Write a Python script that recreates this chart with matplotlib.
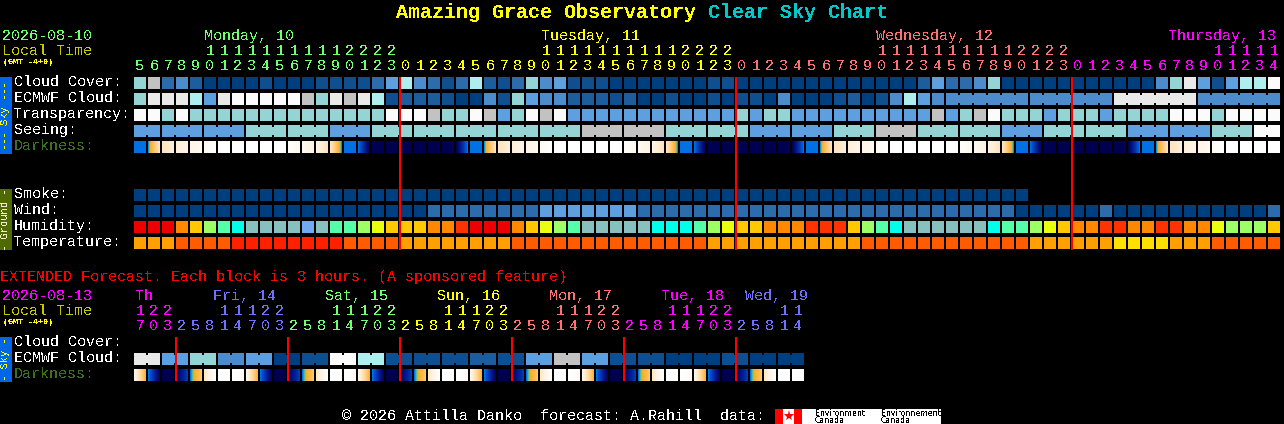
import numpy as np
import matplotlib
matplotlib.use("Agg")
import matplotlib.pyplot as plt
from matplotlib.colors import LinearSegmentedColormap

# ---------- data ----------
hours = [5,6,7,8,9,10,11,12,13,14,15,16,17,18,19,20,21,22,23,
         0,1,2,3,4,5,6,7,8,9,10,11,12,13,14,15,16,17,18,19,20,21,22,23,
         0,1,2,3,4,5,6,7,8,9,10,11,12,13,14,15,16,17,18,19,20,21,22,23,
         0,1,2,3,4,5,6,7,8,9,10,11,12,13,14]
ext_hours = [17,20,23,
             2,5,8,11,14,17,20,23,
             2,5,8,11,14,17,20,23,
             2,5,8,11,14,17,20,23,
             2,5,8,11,14,17,20,23,
             2,5,8,11,14,17,20,23,
             2,5,8,11,14]
day_labels = ["Monday, 10", "Tuesday, 11", "Wednesday, 12", "Thursday, 13"]
ext_day_labels = ["Th", "Fri, 14", "Sat, 15", "Sun, 16", "Mon, 17", "Tue, 18", "Wed, 19"]

cloud_cover = [6,8,3,4,2,0,0,0,0,1,0,0,0,1,1,1,1,3,5,7,4,
               3,1,3,7,2,1,3,6,4,5,1,1,1,0,0,0,0,0,0,0,1,1,
               0,0,0,0,0,0,0,0,0,0,0,0,0,2,5,3,3,4,6,
               0,0,0,0,0,0,0,0,0,0,0,4,6,9,5,1,5,7,7,10]
ecmwf_cloud = [6,9,9,9,7,5,9,10,10,10,10,10,8,6,9,8,9,7,1,2,2,
               2,1,0,0,4,1,6,5,4,4,2,2,2,1,2,0,0,1,0,0,1,0,
               1,1,0,4,0,0,0,1,2,0,1,4,7,5,4,4,4,4,4,4,4,
               4,4,4,4,4,4,9,9,9,9,9,9,4,4,4,4,4,4]
transparency = [10,10,6,10,6,6,6,6,6,6,6,6,6,6,6,6,6,6,10,10,10,8,
                6,6,10,8,5,6,10,8,10,
                5,5,5,5,5,5,5,5,5,5,5,5,
                6,5,6,6,
                5,5,5,5,5,5,5,5,5,5,
                8,5,6,8,10,
                6,6,6,5,6,6,6,5,
                6,6,6,6,
                10,10,10,6,10,10,10,10]
seeing = [5,5, 5,5,5, 5,5,5, 6,6,6, 6,6,6, 5,5,5, 6,6,6, 6,6,6, 6,6,6, 6,6,6, 6,6,6,
          8,8,8, 8,8,8, 6,6,6, 6,6,6, 5,5,5, 5,5,5, 6,6,6, 8,8,8, 6,6,6, 6,6,6,
          5,5,5, 6,6,6, 6,6,6, 5,5,5, 5,5,5, 6,6,6, 10,10]
seeing_blocks = [2,3,3,3,3,3,3,3,3,3,3,3,3,3,3,3,3,3,3,3,3,3,3,3,3,3,3,2]
ecmwf_blocks = [58,6,6,6,6]   # first run is unjoined hourly data

dark_start = [.5,.51,.78,.84,.89,.94,1,1,1,1,1,.99,.93,.88,.78,.5,.5,.02,0,0,0,0,0,.02,
              .5,.51,.78,.84,.89,.94,1,1,1,1,1,.99,.93,.88,.78,.5,.5,.02,0,0,0,0,0,.02,
              .5,.51,.78,.84,.89,.94,1,1,1,1,1,.99,.93,.88,.78,.5,.5,.02,0,0,0,0,0,.02,
              .5,.51,.78,.84,.89,.94,1,1,1,1]
dark_end = [.5,.78,.84,.89,.94,1,1,1,1,1,.99,.93,.88,.78,.51,.5,.02,0,0,0,0,0,.02,.5,
            .5,.78,.84,.89,.94,1,1,1,1,1,.99,.93,.88,.78,.51,.5,.02,0,0,0,0,0,.02,.5,
            .5,.78,.84,.89,.94,1,1,1,1,1,.99,.93,.88,.78,.51,.5,.02,0,0,0,0,0,.02,.5,
            .5,.78,.84,.89,.94,1,1,1,1,1]

smoke = [0,0,0,0,0,0,0,0,0,0,0,0,0,0,0,0,0,0,0,0,0,0,0,0,0,0,0,0,0,0,0,0,
         0,0,0,0,0,0,0,0,0,0,0,0,0,0,0,0,0,0,0,0,0,0,0,0,0,0,0,0,0,0,0,0]
wind = [0,0,0,0,0,0,0,0,0,0,0,0,0,0,0,0,0,0,0,0,0,
        3,3,3,3,3,3,3,3,5,5,5,5,5,5,5,
        3,3,3,3,3,3,3,3,3,3,3,3,3,3,3,3,3,3,3,3,3,3,3,3,3,3,3,
        0,0,0,0,0,0,3,0,0,0,0,0,0,0,0,0,0,0,3]
humidity = [0,0,0,2,3,4,5,6,7,7,7,7,8,7,5,5,4,9,3,3,3,
            2,2,1,0,0,0,2,3,9,4,5,7,7,7,7,7,6,6,6,5,4,9,3,3,2,2,2,1,1,1,3,
            4,5,6,7,7,7,7,7,7,6,5,5,4,9,3,2,2,1,1,2,2,1,1,2,2,9,4,4,4,3]
temperature = [1,1,1,2,2,2,2,3,3,3,3,3,3,3,3,2,2,2,2,1,1,
               1,1,1,1,1,1,2,2,2,2,2,2,2,2,2,2,2,2,2,2,
               1,1,1,1,1,1,1,1,1,1,1,
               2,2,2,2,2,2,2,2,2,2,2,2,
               1,1,1,1,1,1,4,4,4,4,1,1,1,2,2,2,2,2]

ext_ecmwf = [9,5,6,4,5,0,1,10,7,1,1,1,2,1,5,8,5,1,1,0,0,1,0,0]
ext_dark_start = [.9,.5,0,.03,.5,.8,1,1,.9,.5,0,.03,.5,.8,1,1,.9,.5,0,.03,.5,.8,1,1,
                  .9,.5,0,.03,.5,.8,1,1,.9,.5,0,.03,.5,.8,1,1,.9,.5,0,.03,.5,.8,1,1]
ext_dark_end = [.58,.03,0,.35,.66,1,1,.95,.58,.03,0,.35,.66,1,1,.95,.58,.03,0,.35,.66,1,1,.95,
                .58,.03,0,.35,.66,1,1,.95,.58,.03,0,.35,.66,1,1,.95,.58,.03,0,.35,.66,1,1,.98]

row_labels = ["Cloud Cover:", "ECMWF Cloud:", "Transparency:", "Seeing:", "Darkness:"]
ground_labels = ["Smoke:", "Wind:", "Humidity:", "Temperature:"]
ext_labels = ["Cloud Cover:", "ECMWF Cloud:", "Darkness:"]

# ---------- styles ----------
sky_pal = ['#003f7f','#0f4f8f','#1d5d9d','#2c6cad','#4c8bcc','#5e9fe0',
           '#95d4d4','#aeeeee','#c2c2c2','#e9e9e9','#fbfbfb']
hum_pal = ['#ee0000','#ff3300','#ff8800','#ffc800','#9cff66','#55ffaa',
           '#00ffea','#88c0c0','#70aaf0','#eaff10']
tmp_pal = [None,'#ffa000','#ff5c00','#ff2000','#ffe000']
dark_cmap = LinearSegmentedColormap.from_list("dark", [
    (0.0,'#000050'),(0.1,'#000a70'),(0.3,'#0030a8'),(0.5,'#0068e8'),(0.52,'#00c8d0'),
    (0.55,'#ffa820'),(0.72,'#ffd9a0'),(0.85,'#fff0dc'),(1.0,'#ffffff')])
GREEN,YEL,SALMON,MAG,PERI = '#70ff70','#ffff00','#ff7070','#ff00ff','#7070ff'
FONT = 'Liberation Mono'

fig = plt.figure(figsize=(12.84,4.24), dpi=100, facecolor='black')
ax = fig.add_axes([0,0,1,1])
ax.set_facecolor('black')
ax.set_axis_off()

X0, STEP, W = 134, 14, 12

def txt(x, y, s, color='white', size=10.8, **kw):
    kw.setdefault('va','center'); kw.setdefault('ha','left')
    ax.text(x, y+1, s, color=color, fontsize=size, family=FONT, antialiased=False, **kw)

def row(y, values, pal):
    n = len(values)
    ax.bar(X0+STEP*np.arange(n), [W]*n, width=W, bottom=y, align='edge',
           color=[pal[v] for v in values], linewidth=0, antialiased=False, zorder=2)

def bridges(y, values, pal, blocks, skip_first=False):
    i = 0
    for k, b in enumerate(blocks):
        if not (skip_first and k == 0):
            for j in range(i, i+b-1):
                ax.bar(X0+STEP*j+W, 8, width=STEP-W, bottom=y+2, align='edge',
                       color=pal[values[j]], linewidth=0, antialiased=False, zorder=2)
        i += b

def dark_row(y, start, end):
    for i,(a,b) in enumerate(zip(start,end)):
        x = X0+STEP*i
        ax.imshow(np.linspace(a,b,W)[None,:], extent=(x,x+W,y+W,y), cmap=dark_cmap,
                  vmin=0, vmax=1, interpolation='nearest', aspect='auto', zorder=2)

# main rows
row(77, cloud_cover, sky_pal)
row(93, ecmwf_cloud, sky_pal); bridges(93, ecmwf_cloud, sky_pal, ecmwf_blocks, skip_first=True)
row(109, transparency, sky_pal)
row(125, seeing, sky_pal); bridges(125, seeing, sky_pal, seeing_blocks)
dark_row(141, dark_start, dark_end)
row(189, smoke, sky_pal)
row(205, wind, sky_pal)
row(221, humidity, hum_pal)
row(237, temperature, tmp_pal)

# extended rows: every block is a joined pair of cells
ext_cells = [v for v in ext_ecmwf for _ in (0,1)]
row(353, ext_cells, sky_pal)
bridges(353, ext_cells, sky_pal, [2]*len(ext_ecmwf))
dark_row(369, ext_dark_start, ext_dark_end)

# midnight lines
ax.vlines([400,736,1072], 77, 250, color='#ff0000', linewidth=1.44, zorder=3, antialiased=False)
ax.vlines([176,288,400,512,624,736], 337, 381, color='#ff0000', linewidth=1.44, zorder=3, antialiased=False)

# sidebars
ax.bar(0, 77, width=12, bottom=77, align='edge', color='#0066e6', linewidth=0, antialiased=False)
ax.bar(0, 61, width=12, bottom=189, align='edge', color='#4f6a00', linewidth=0, antialiased=False)
ax.bar(0, 45, width=12, bottom=337, align='edge', color='#0066e6', linewidth=0, antialiased=False)
txt(5, 114.5, "--- Sky ---", YEL, 7.5, rotation=90, ha='center')
txt(5, 218.5, "- Ground -", '#f0f0d0', 7.5, rotation=90, ha='center')
txt(5, 358.5, "- Sky -", YEL, 7.5, rotation=90, ha='center')

# title
txt(396, 11, "Amazing Grace Observatory", YEL, 14.4, weight='bold')
txt(708, 11, "Clear Sky Chart", '#00c8c8', 14.4, weight='bold')

# left headers
txt(2, 35, "2026-08-10", GREEN)
txt(2, 50, "Local Time", '#c8c800')
txt(3, 62, "(GMT -4+0)", YEL, 6, weight='bold')
txt(2, 295, "2026-08-13", MAG)
txt(2, 310, "Local Time", '#c8c800')
txt(3, 322, "(GMT -4+0)", YEL, 6, weight='bold')

for s, x, c in zip(day_labels, [204,541,876,1168], [GREEN,YEL,SALMON,MAG]):
    txt(x, 35, s, c)
for s, x, c in zip(ext_day_labels, [135,213,325,437,549,661,745], [MAG,PERI,GREEN,YEL,SALMON,MAG,PERI]):
    txt(x, 295, s, c)

# hour labels
main_cols = [GREEN]*19 + [YEL]*24 + [SALMON]*24 + [MAG]*15
for i,(h,c) in enumerate(zip(hours, main_cols)):
    x = X0+STEP*i+6
    if h >= 10:
        txt(x, 50, str(h//10), c, ha='center')
    txt(x, 65, str(h%10), c, ha='center')
ext_cols = [MAG]*3 + [PERI]*8 + [GREEN]*8 + [YEL]*8 + [SALMON]*8 + [MAG]*8 + [PERI]*5
for i,(h,c) in enumerate(zip(ext_hours, ext_cols)):
    x = X0+STEP*i+6
    if h >= 10:
        txt(x, 310, str(h//10), c, ha='center')
    txt(x, 325, str(h%10), c, ha='center')

# row labels
for s,y in zip(row_labels,[81,97,113,129,145]):
    txt(14, y, s, '#3a7020' if s.startswith('Dark') else 'white')
for s,y in zip(ground_labels,[193,209,225,241]):
    txt(14, y, s)
for s,y in zip(ext_labels,[341,357,373]):
    txt(14, y, s, '#3a7020' if s.startswith('Dark') else 'white')

txt(0, 276, "EXTENDED Forecast. Each block is 3 hours. (A sponsored feature)", '#ff0000')

# footer
txt(342, 415.5, "\u00a9 2026 Attilla Danko  forecast: A.Rahill  data:")
ax.bar(775, 15, width=166, bottom=409, align='edge', color='white', linewidth=0, antialiased=False, zorder=2)
ax.bar([775,794], 15, width=8, bottom=409, align='edge', color='#ff0000', linewidth=0, antialiased=False, zorder=3)
ax.plot([788.5],[416], marker='*', ms=8, color='#ff0000', mew=0, zorder=3)
for x,s1,s2 in [(815,"Environment","Canada"),(881,"Environnement","Canada")]:
    ax.text(x, 413.5, s1, color='black', fontsize=5.6, family='DejaVu Sans', va='center', zorder=4, antialiased=False)
    ax.text(x, 420.5, s2, color='black', fontsize=5.6, family='DejaVu Sans', va='center', zorder=4, antialiased=False)

ax.set_xlim(0,1284)
ax.set_ylim(424,0)
fig.savefig("out.png", dpi=100, facecolor='black')
